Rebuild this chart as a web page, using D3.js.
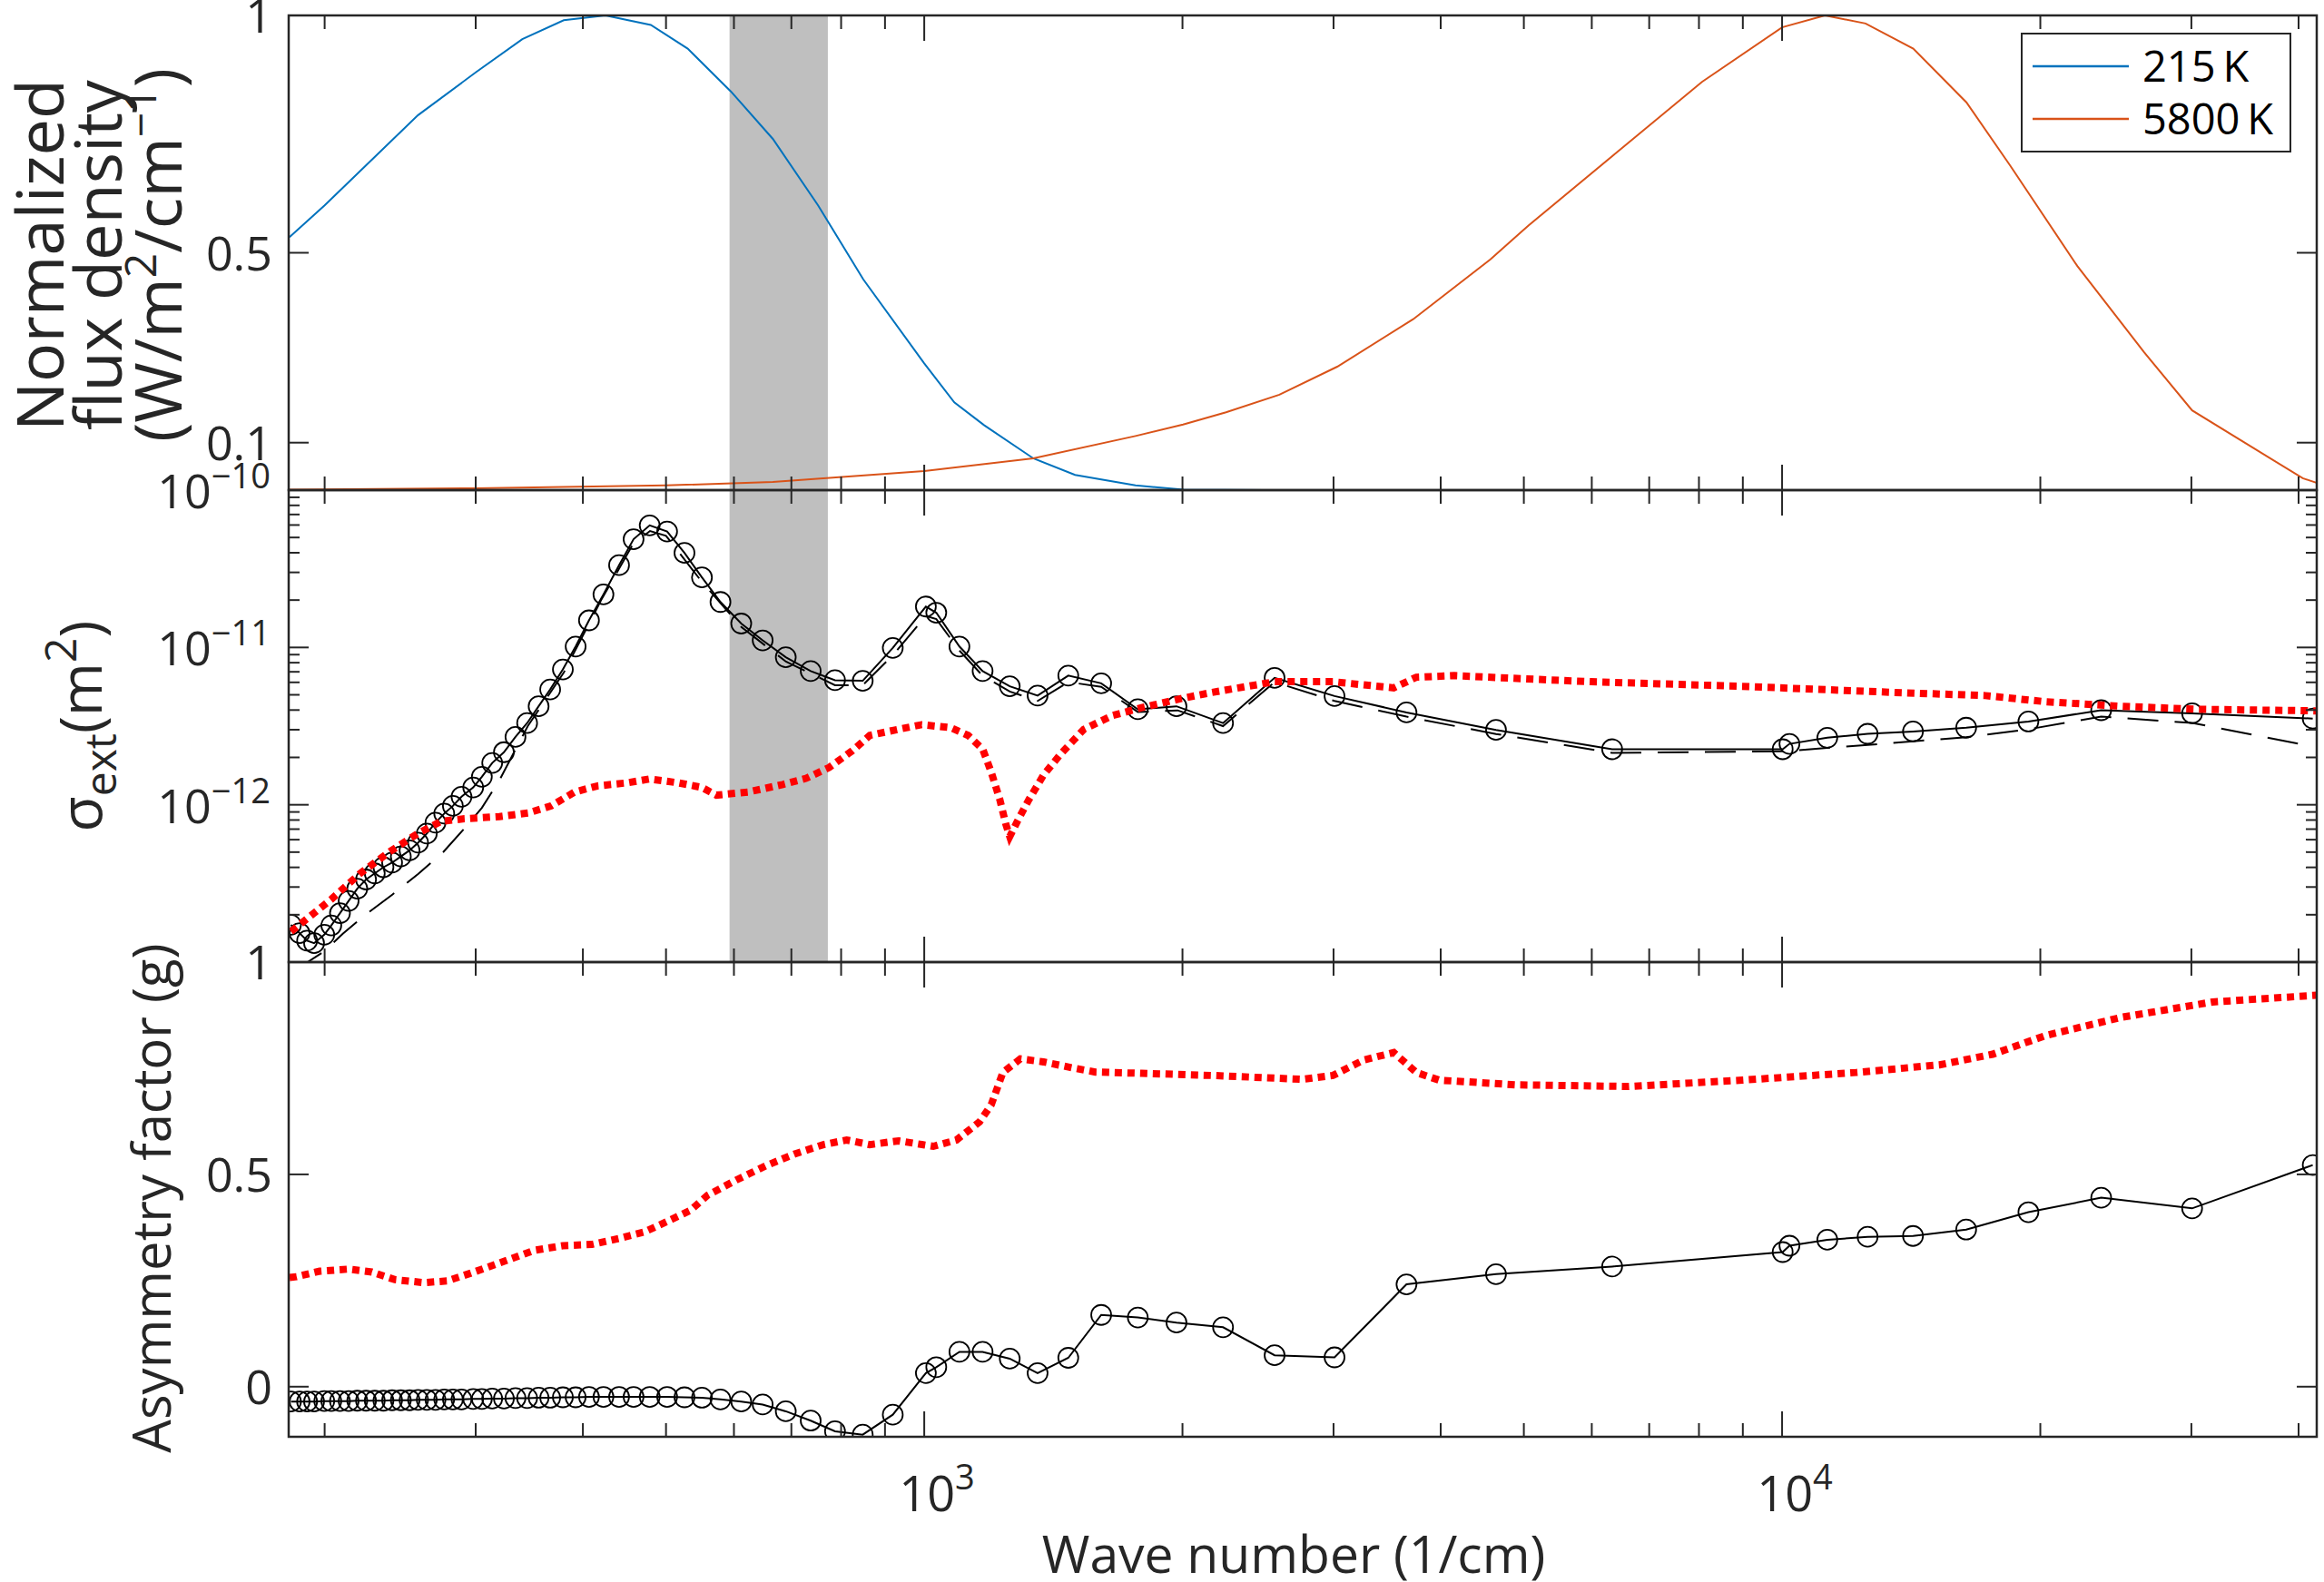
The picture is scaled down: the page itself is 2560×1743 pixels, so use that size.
<!DOCTYPE html>
<html><head><meta charset="utf-8">
<script src="https://cdn.jsdelivr.net/npm/d3@7"></script>
<style>body{margin:0;background:#fff}svg text{font-family:"Open Sans",sans-serif;fill:#262626}</style>
</head><body>
<svg id="c" width="2560" height="1743"></svg>
<script>
// ---------- data ----------
const nu215 = [182,200,257,300,340,380,425,480,530,595,666,752,849,1000,1084,1174,1340,1499,1763,2007,2500,42000];
const flux215 = [0.533,0.60,0.79,0.88,0.95,0.99,1.0,0.98,0.93,0.84,0.74,0.60,0.444,0.267,0.185,0.137,0.067,0.032,0.010,0.001,0,0];
const nu5800 = [182,300,500,666,1000,1340,1763,2003,2248,2594,3030,3715,4571,5066,6400,8065,10000,11220,12510,14220,16400,18440,22090,26440,30060,40450,42070];
const flux5800 = [0.001,0.004,0.010,0.017,0.040,0.067,0.114,0.138,0.164,0.201,0.26,0.36,0.486,0.558,0.71,0.86,0.975,1.0,0.983,0.93,0.817,0.684,0.472,0.29,0.168,0.025,0.015];
const bandNu = [593,772];

const nuCircles = [182.7,187,190.8,194.4,199.8,203.6,208.4,213.3,218.3,223.5,228.8,234.2,239.7,245.4,251.2,257.0,263.1,269.3,275.7,282.2,288.8,298.0,305.0,313.6,323.6,333.8,344.4,355.2,366.4,379.1,392.3,406.6,422.7,440.8,458.3,478.6,501.5,525.4,550.6,578.7,611.9,648.1,689.6,737.3,787.0,847.8,919.0,1004.4,1032.8,1099,1169.6,1258,1355.6,1472,1608,1774,1968,2230,2561,3008,3649,4640,6337,10016,10200,11290,12580,14210,16390,19370,23550,30060,41550];
const sigmaSolidLog = [-12.763,-12.816,-12.864,-12.880,-12.826,-12.767,-12.689,-12.611,-12.533,-12.475,-12.436,-12.397,-12.368,-12.329,-12.290,-12.241,-12.183,-12.114,-12.056,-12.007,-11.949,-11.890,-11.822,-11.734,-11.666,-11.569,-11.481,-11.374,-11.267,-11.140,-10.994,-10.828,-10.663,-10.477,-10.312,-10.224,-10.263,-10.399,-10.555,-10.711,-10.848,-10.955,-11.062,-11.150,-11.208,-11.212,-11.003,-10.740,-10.779,-10.994,-11.150,-11.247,-11.306,-11.179,-11.228,-11.393,-11.374,-11.481,-11.193,-11.309,-11.413,-11.524,-11.647,-11.647,-11.613,-11.574,-11.549,-11.534,-11.510,-11.471,-11.399,-11.419,-11.452];
const gSolid = [-0.035,-0.035,-0.035,-0.035,-0.034,-0.034,-0.034,-0.034,-0.033,-0.033,-0.033,-0.033,-0.032,-0.032,-0.032,-0.031,-0.031,-0.031,-0.030,-0.030,-0.030,-0.029,-0.029,-0.028,-0.028,-0.027,-0.027,-0.026,-0.026,-0.025,-0.025,-0.024,-0.024,-0.024,-0.024,-0.024,-0.024,-0.025,-0.026,-0.030,-0.035,-0.042,-0.058,-0.080,-0.105,-0.113,-0.066,0.032,0.046,0.082,0.082,0.066,0.032,0.068,0.169,0.163,0.151,0.140,0.074,0.069,0.241,0.265,0.283,0.317,0.332,0.346,0.353,0.355,0.370,0.411,0.445,0.420,0.522];

const nuDashed = [185,200,210,223,240,257,275,290,305,320,345,380,420,458,479,500,550,612,690,787,848,919,1004,1033,1099,1170,1258,1356,1472,1608,1774,1974,2230,2561,3008,3649,4640,6337,10016,12580,16390,19370,23550,30060,41550];
const sigmaDashedLog = [-13.05,-12.93,-12.82,-12.70,-12.57,-12.44,-12.30,-12.16,-12.02,-11.84,-11.50,-11.16,-10.70,-10.34,-10.26,-10.29,-10.58,-10.87,-11.09,-11.24,-11.24,-11.05,-10.80,-10.82,-11.02,-11.18,-11.28,-11.34,-11.22,-11.25,-11.41,-11.40,-11.50,-11.22,-11.34,-11.44,-11.55,-11.67,-11.66,-11.62,-11.57,-11.52,-11.44,-11.48,-11.63];

const nuRedSigma = [182.7,191.4,203.6,220.0,237.9,257.0,273.5,291.1,319.6,345.4,367.5,391.1,416.2,449.8,478.6,517.3,550.6,572.4,623.4,684.1,728.1,774.9,824.7,864.0,933.6,993.4,1074,1125,1170,1197,1225,1245,1258,1284,1324,1377,1443,1535,1659,1793,1993,2163,2561,2995,3526,3747,4149,5984,8989,13510,17250,20290,24880,30500,42000];
const sigmaRedLog = [-12.806,-12.718,-12.601,-12.436,-12.300,-12.182,-12.105,-12.089,-12.075,-12.052,-12.007,-11.919,-11.880,-11.861,-11.836,-11.861,-11.890,-11.939,-11.919,-11.871,-11.832,-11.763,-11.656,-11.559,-11.520,-11.491,-11.510,-11.559,-11.647,-11.793,-11.968,-12.124,-12.202,-12.105,-11.968,-11.812,-11.676,-11.520,-11.432,-11.383,-11.325,-11.286,-11.218,-11.218,-11.257,-11.189,-11.179,-11.218,-11.247,-11.286,-11.306,-11.345,-11.374,-11.393,-11.403];

const nuRedG = [182,185.5,197.4,213.3,227.0,241.5,261.1,277.8,295.7,324.6,350.8,379.1,409.8,442.9,471.2,501.5,533.6,559.2,604.2,653.2,706.0,762.9,811.8,864.0,933.6,1024.7,1090.4,1160.3,1197,1235,1294,1377,1488,1583,1793,2163,2761,2995,3250,3526,3747,3982,4883,6626,8989,12200,15260,17600,20290,24880,31760,42000];
const gRed = [0.257,0.259,0.272,0.277,0.270,0.252,0.245,0.249,0.267,0.296,0.321,0.332,0.335,0.350,0.364,0.389,0.415,0.451,0.487,0.520,0.548,0.570,0.581,0.570,0.579,0.566,0.581,0.624,0.664,0.740,0.772,0.765,0.751,0.741,0.738,0.733,0.724,0.733,0.769,0.787,0.740,0.722,0.711,0.707,0.722,0.740,0.758,0.783,0.827,0.870,0.906,0.922];

const legendLabels = ["215\u2009K","5800\u2009K"];
const topTicks = [0.1,0.5,1];
const botTicks = [0,0.5,1];
const midMajor = [-10,-11,-12];
const xMajor = [3,4];

// ---------- layout ----------
const L=318,R=2552;
const P=[{t:17,b:540},{t:540,b:1060},{t:1060,b:1583}];
const svg=d3.select("#c");
const ink="#262626";
const x=d3.scaleLog().domain([181.6,42000]).range([L,R]);
const yTop=d3.scaleLinear().domain([0,1]).range([P[0].b,P[0].t]);
const yMid=d3.scaleLog().domain([1e-13,1e-10]).range([P[1].b,P[1].t]);
const yBot=d3.scaleLinear().domain([-0.118,1]).range([P[2].b,P[2].t]);

const defs=svg.append("defs");
P.forEach((p,i)=>defs.append("clipPath").attr("id","cp"+i).append("rect").attr("x",L).attr("y",p.t).attr("width",R-L).attr("height",p.b-p.t));

// band
[0,1].forEach(i=>svg.append("rect").attr("x",x(bandNu[0])).attr("width",x(bandNu[1])-x(bandNu[0]))
  .attr("y",P[i].t).attr("height",P[i].b-P[i].t).attr("fill","#bfbfbf"));

function drawLine(g,xs,ys,ysc,opt){
  const data=xs.map((d,i)=>[d,ys[i]]);
  g.append("path").datum(data).attr("fill","none")
   .attr("d",d3.line().x(d=>x(d[0])).y(d=>ysc(d[1])))
   .attr("stroke",opt.c).attr("stroke-width",opt.w).attr("stroke-dasharray",opt.dash||null);
}
function circles(g,xs,ys,ysc){
  g.selectAll(null).data(xs.map((d,i)=>[d,ys[i]])).enter().append("circle")
   .attr("cx",d=>x(d[0])).attr("cy",d=>ysc(d[1])).attr("r",11)
   .attr("fill","none").attr("stroke","#000").attr("stroke-width",1.8);
}
const g0=svg.append("g").attr("clip-path","url(#cp0)");
drawLine(g0,nu215,flux215,yTop,{c:"#0072BD",w:2});
drawLine(g0,nu5800,flux5800,yTop,{c:"#D95319",w:2});

const g1=svg.append("g").attr("clip-path","url(#cp1)");
const p10=v=>Math.pow(10,v);
drawLine(g1,nuDashed,sigmaDashedLog.map(p10),yMid,{c:"#000",w:2,dash:"34,18"});
drawLine(g1,nuCircles,sigmaSolidLog.map(p10),yMid,{c:"#000",w:2});
circles(g1,nuCircles,sigmaSolidLog.map(p10),yMid);
drawLine(g1,nuRedSigma,sigmaRedLog.map(p10),yMid,{c:"#ff0000",w:8,dash:"8,6"});

const g2=svg.append("g").attr("clip-path","url(#cp2)");
drawLine(g2,nuCircles,gSolid,yBot,{c:"#000",w:2});
circles(g2,nuCircles,gSolid,yBot);
drawLine(g2,nuRedG,gRed,yBot,{c:"#ff0000",w:8,dash:"8,6"});

// ---------- axes / ticks ----------
const xMinor=[];
[2,3].forEach(e=>{for(let k=2;k<=9;k++)xMinor.push(k*Math.pow(10,e));});
[2,3,4].forEach(k=>xMinor.push(k*1e4));
const ax=svg.append("g").attr("stroke",ink).attr("fill","none");
function tick(x1,y1,x2,y2,w){ax.append("line").attr("x1",x1).attr("y1",y1).attr("x2",x2).attr("y2",y2).attr("stroke-width",w||2);}
P.forEach(p=>{
  xMinor.forEach(v=>{const X=x(v);tick(X,p.b,X,p.b-15);tick(X,p.t,X,p.t+15);});
  xMajor.forEach(e=>{const X=x(Math.pow(10,e));tick(X,p.b,X,p.b-28);tick(X,p.t,X,p.t+28);});
});
topTicks.forEach(v=>{const Y=yTop(v);tick(L,Y,L+22,Y);tick(R,Y,R-22,Y);});
botTicks.forEach(v=>{const Y=yBot(v);tick(L,Y,L+22,Y);tick(R,Y,R-22,Y);});
for(let e=-13;e<-10;e++){
  for(let k=1;k<=9;k++){const Y=yMid(k*Math.pow(10,e));const len=k===1?22:12;tick(L,Y,L+len,Y);tick(R,Y,R-len,Y);}
}
P.forEach(p=>ax.append("rect").attr("x",L).attr("y",p.t).attr("width",R-L).attr("height",p.b-p.t).attr("stroke-width",2.5));

// ---------- tick labels ----------
const fs=52;
function lab(t,X,Y,anchor){return svg.append("text").attr("x",X).attr("y",Y).attr("text-anchor",anchor).attr("font-size",fs).text(t);}
topTicks.forEach(v=>lab(String(v),300,yTop(v)+19,"end"));
botTicks.forEach(v=>lab(String(v),300,yBot(v)+19,"end"));
midMajor.forEach(e=>{
  const t=svg.append("text").attr("x",298).attr("y",yMid(Math.pow(10,e))+20).attr("text-anchor","end").attr("font-size",fs);
  t.append("tspan").text("10");
  t.append("tspan").attr("dy",-22).attr("font-size",38).text("\u2212"+(-e));
});
xMajor.forEach(e=>{
  const t=svg.append("text").attr("x",x(Math.pow(10,e))+14).attr("y",1665).attr("text-anchor","middle").attr("font-size",fs+2);
  t.append("tspan").text("10");
  t.append("tspan").attr("dy",-24).attr("font-size",38).text(String(e));
});

// ---------- axis titles ----------
svg.append("text").attr("x",(L+R)/2-10).attr("y",1733).attr("text-anchor","middle").attr("font-size",57).text("Wave number (1/cm)");
function vlab(lines,Xs,Yc,size){
  lines.forEach((ln,i)=>{
    const t=svg.append("text").attr("transform",`translate(${Xs[i]},${Yc}) rotate(-90)`).attr("text-anchor","middle").attr("font-size",size);
    ln.forEach(s=>{const ts=t.append("tspan").text(s.t);if(s.dy)ts.attr("dy",s.dy);if(s.fs)ts.attr("font-size",s.fs);});
  });
}
vlab([[{t:"Normalized"}],[{t:"flux density"}],[{t:"(W/m"},{t:"2",dy:-28,fs:48},{t:"/cm",dy:28},{t:"\u22121",dy:-28,fs:48},{t:")",dy:28}]],[70,134,200],281,72);
vlab([[{t:"\u03c3"},{t:"ext",dy:16,fs:48},{t:"(m",dy:-16},{t:"2",dy:-28,fs:48},{t:")",dy:28}]],[112],800,64);
vlab([[{t:"Asymmetry factor (g)"}]],[188],1320,58);

// ---------- legend ----------
const lg=svg.append("g");
lg.append("rect").attr("x",2227).attr("y",37).attr("width",296).attr("height",130).attr("fill","#fff").attr("stroke",ink).attr("stroke-width",2);
[["#0072BD",73],["#D95319",131]].forEach((c,i)=>{
  lg.append("line").attr("x1",2239).attr("x2",2345).attr("y1",c[1]).attr("y2",c[1]).attr("stroke",c[0]).attr("stroke-width",2.5);
  lg.append("text").attr("x",2360).attr("y",c[1]+17).attr("font-size",47).style("fill","#000").text(legendLabels[i]);
});
</script>
</body></html>
